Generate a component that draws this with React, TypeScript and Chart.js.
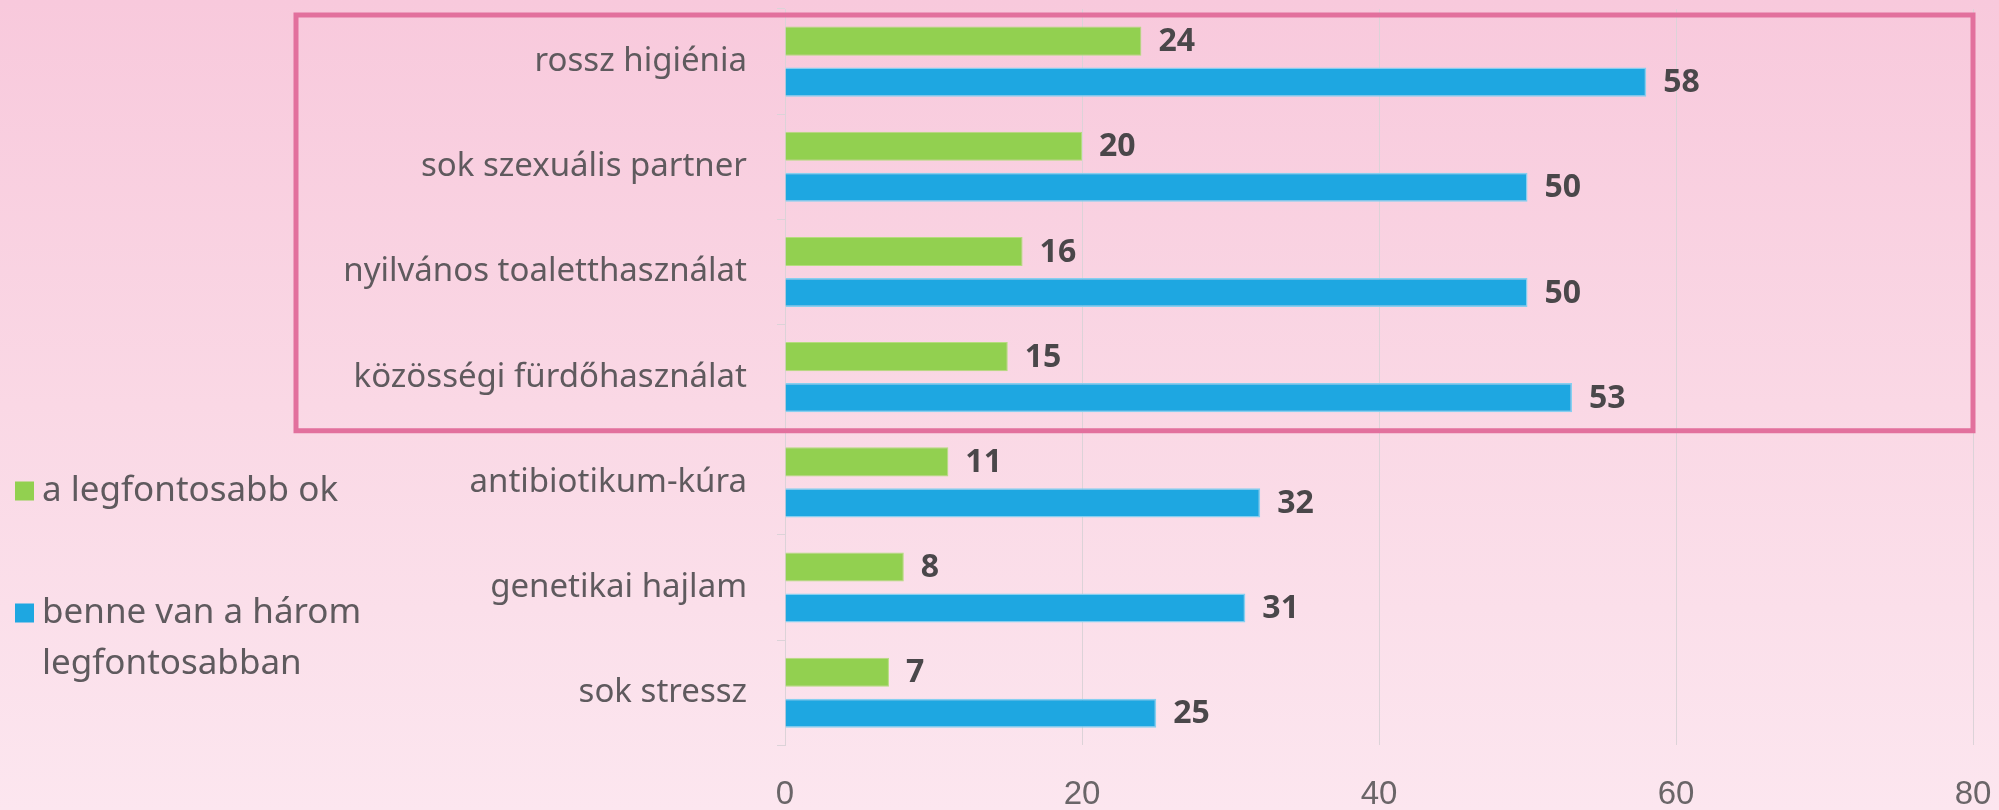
import React, { useEffect, useRef } from "react";
import { Chart, registerables } from "chart.js";

Chart.register(...registerables);

const categories = [
  "rossz higiénia",
  "sok szexuális partner",
  "nyilvános toaletthasználat",
  "közösségi fürdőhasználat",
  "antibiotikum-kúra",
  "genetikai hajlam",
  "sok stressz",
];
const mainReason = [24, 20, 16, 15, 11, 8, 7];
const topThree = [58, 50, 50, 53, 32, 31, 25];
const seriesMainName = "a legfontosabb ok";
const seriesTopName = ["benne van a három", "legfontosabban"];
const xMin = 0;
const xMax = 80;
const xStep = 20;

const W = 1999;
const H = 810;

const GREEN = "#92D050";
const BLUE = "#1EA7E1";
const TEXT = "#5f5a5e";
const TICK = "#6a6568";
const LABEL = "#4a474a";
const GRID = "#dcd3d8";
const BOX = "#E2709D";

const labelFont = "'Noto Sans', 'Open Sans', sans-serif";

const dataLabelPlugin = {
  id: "dataLabels",
  afterDatasetsDraw(chart: any) {
    const ctx = chart.ctx;
    ctx.save();
    ctx.font = "bold 32px 'Open Sans', 'Liberation Sans', sans-serif";
    ctx.fillStyle = LABEL;
    ctx.textAlign = "left";
    ctx.textBaseline = "middle";
    chart.data.datasets.forEach((ds: any, di: number) => {
      const meta = chart.getDatasetMeta(di);
      meta.data.forEach((bar: any, i: number) => {
        ctx.fillText(String(ds.data[i]), bar.x + 17, bar.y + 1);
      });
    });
    ctx.restore();
  },
};

const decorPlugin = {
  id: "decor",
  afterDraw(chart: any) {
    const ctx = chart.ctx;
    const y = chart.scales.y;
    const x = chart.scales.x;
    // highlight box around first four categories
    const top = chart.chartArea.top + 6;
    const bottom = (y.getPixelForValue(3) + y.getPixelForValue(4)) / 2 + 1;
    const right = x.getPixelForValue(xMax);
    const left = 296;
    ctx.save();
    ctx.strokeStyle = BOX;
    ctx.lineWidth = 5;
    ctx.strokeRect(left, top, right - left, bottom - top);
    ctx.restore();

    // legend
    ctx.save();
    ctx.font = `35px ${labelFont}`;
    ctx.textBaseline = "middle";
    ctx.textAlign = "left";
    const sq = 19;
    const lx = 15;
    const tx = 42;
    const y1 = 491;
    const y2 = 613;
    const y3 = 664;
    ctx.fillStyle = GREEN;
    ctx.fillRect(lx, y1 - sq / 2, sq, sq);
    ctx.fillStyle = BLUE;
    ctx.fillRect(lx, y2 - sq / 2, sq, sq);
    ctx.fillStyle = TEXT;
    ctx.fillText(seriesMainName, tx, y1);
    ctx.fillText(seriesTopName[0], tx, y2);
    ctx.fillText(seriesTopName[1], tx, y3);
    ctx.restore();
  },
};

export default function App() {
  const ref = useRef<HTMLCanvasElement | null>(null);
  useEffect(() => {
    if (!ref.current) return;
    const chart = new Chart(ref.current, {
      type: "bar",
      data: {
        labels: categories,
        datasets: [
          {
            label: seriesMainName,
            data: mainReason,
            backgroundColor: GREEN,
            borderColor: "#b5dc7e",
            borderWidth: 1,
            categoryPercentage: 0.78,
            barPercentage: 0.71,
          },
          {
            label: seriesTopName.join(" "),
            data: topThree,
            backgroundColor: BLUE,
            borderColor: "#86cff0",
            borderWidth: 1.5,
            categoryPercentage: 0.78,
            barPercentage: 0.71,
          },
        ],
      },
      options: {
        indexAxis: "y",
        animation: false,
        responsive: false,
        maintainAspectRatio: false,
        devicePixelRatio: 1,
        layout: { padding: { top: 9, right: 26, left: 0, bottom: 0 } },
        plugins: {
          legend: { display: false },
          tooltip: { enabled: false },
        },
        scales: {
          x: {
            min: xMin,
            max: xMax,
            afterFit: (s: any) => {
              s.paddingLeft = 0;
              s.paddingRight = 0;
              // Chart.js reserves the tick padding twice; keep it once
              s.height = s.height - s.options.ticks.padding;
            },
            ticks: {
              stepSize: xStep,
              color: TICK,
              padding: 35,
              font: {
                family: "'Liberation Sans', Arial, sans-serif",
                size: 33,
                lineHeight: 0.9,
              },
            },
            grid: { color: GRID, drawTicks: false, lineWidth: 1 },
            border: { display: false },
          },
          y: {
            afterFit: (s: any) => {
              s.width = 785;
              s.paddingTop = 0;
              s.paddingBottom = 0;
            },
            ticks: {
              color: TEXT,
              padding: 30,
              font: { family: labelFont, size: 33 },
            },
            grid: {
              drawOnChartArea: false,
              drawTicks: true,
              tickLength: 8,
              color: GRID,
            },
            border: { display: true, color: GRID },
          },
        },
      },
      plugins: [dataLabelPlugin, decorPlugin],
    });
    return () => chart.destroy();
  }, []);

  return (
    <div
      style={{
        position: "fixed",
        left: 0,
        top: 0,
        width: W,
        height: H,
        background: "linear-gradient(180deg, #F8C9DC 0%, #FAD8E5 50%, #FCE6EF 100%)",
      }}
    >
      <canvas ref={ref} width={W} height={H} style={{ display: "block", width: W, height: H }} />
    </div>
  );
}
